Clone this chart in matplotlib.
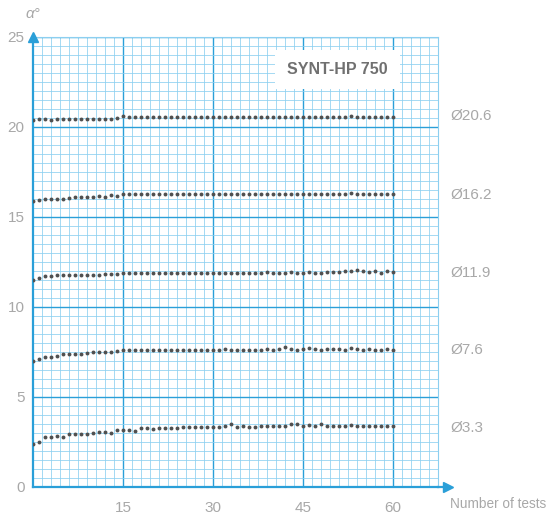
import matplotlib.pyplot as plt
from matplotlib.ticker import MultipleLocator

plt.rcParams['font.family'] = ['Liberation Sans', 'DejaVu Sans']

tests = list(range(0, 61))

d33 = [2.4, 2.5, 2.75, 2.75, 2.85, 2.8, 2.95, 2.95, 2.95, 2.95,
       3.0, 3.05, 3.05, 3.0, 3.15, 3.15, 3.15, 3.1, 3.25, 3.25,
       3.2, 3.3, 3.3, 3.25, 3.25, 3.35, 3.35, 3.35, 3.35, 3.35,
       3.35, 3.35, 3.4, 3.5, 3.35, 3.4, 3.35, 3.35, 3.4, 3.4,
       3.4, 3.4, 3.4, 3.5, 3.5, 3.4, 3.45, 3.4, 3.5, 3.4,
       3.4, 3.4, 3.4, 3.45, 3.4, 3.4, 3.4, 3.4, 3.4, 3.4, 3.4]
d76 = [7.0, 7.1, 7.2, 7.2, 7.3, 7.4, 7.4, 7.4, 7.4, 7.45,
       7.5, 7.5, 7.5, 7.5, 7.55, 7.6, 7.6, 7.6, 7.6, 7.6,
       7.6, 7.6, 7.6, 7.6, 7.6, 7.6, 7.6, 7.6, 7.6, 7.6,
       7.6, 7.6, 7.65, 7.6, 7.6, 7.6, 7.6, 7.6, 7.6, 7.65,
       7.6, 7.65, 7.75, 7.65, 7.6, 7.65, 7.7, 7.65, 7.6, 7.65,
       7.65, 7.65, 7.6, 7.7, 7.65, 7.6, 7.65, 7.6, 7.6, 7.65, 7.6]
d119 = [11.5, 11.6, 11.7, 11.7, 11.75, 11.75, 11.75, 11.8, 11.8, 11.8,
        11.8, 11.8, 11.85, 11.85, 11.85, 11.9, 11.9, 11.9, 11.9, 11.9,
        11.9, 11.9, 11.9, 11.9, 11.9, 11.9, 11.9, 11.9, 11.9, 11.9,
        11.9, 11.9, 11.9, 11.9, 11.9, 11.9, 11.9, 11.9, 11.9, 11.95,
        11.9, 11.9, 11.9, 11.95, 11.9, 11.9, 11.95, 11.9, 11.9, 11.95,
        11.95, 11.95, 12.0, 12.0, 12.05, 12.0, 11.95, 12.0, 11.9, 12.0, 11.95]
d162 = [15.9, 15.95, 16.0, 16.0, 16.0, 16.0, 16.05, 16.1, 16.1, 16.1,
        16.1, 16.15, 16.1, 16.2, 16.15, 16.25, 16.25, 16.25, 16.25, 16.25,
        16.25, 16.25, 16.25, 16.25, 16.25, 16.25, 16.25, 16.25, 16.3, 16.25,
        16.25, 16.25, 16.25, 16.25, 16.25, 16.25, 16.25, 16.25, 16.25, 16.25,
        16.25, 16.25, 16.25, 16.25, 16.25, 16.25, 16.25, 16.25, 16.25, 16.25,
        16.25, 16.25, 16.25, 16.35, 16.3, 16.25, 16.25, 16.25, 16.25, 16.25, 16.25]
d206 = [20.4, 20.45, 20.45, 20.4, 20.45, 20.45, 20.45, 20.45, 20.45, 20.45,
        20.45, 20.45, 20.45, 20.45, 20.5, 20.6, 20.55, 20.55, 20.55, 20.55,
        20.55, 20.55, 20.55, 20.55, 20.55, 20.55, 20.55, 20.55, 20.55, 20.55,
        20.55, 20.55, 20.55, 20.55, 20.55, 20.55, 20.55, 20.55, 20.55, 20.55,
        20.55, 20.55, 20.55, 20.55, 20.55, 20.55, 20.55, 20.55, 20.55, 20.55,
        20.55, 20.55, 20.55, 20.6, 20.55, 20.55, 20.55, 20.55, 20.55, 20.55, 20.55]

series = [d206, d162, d119, d76, d33]
labels = ["Ø20.6", "Ø16.2", "Ø11.9", "Ø7.6", "Ø3.3"]
label_y = [20.6, 16.2, 11.9, 7.6, 3.3]

blue = "#2a9fd8"
light = "#8ccff0"
grey = "#a8a8a8"

fig = plt.figure(figsize=(5.46, 5.15), dpi=100)
ax = fig.add_axes([0.0604, 0.0544, 0.742, 0.874])

ax.set_xlim(0, 67.5)
ax.set_ylim(0, 25)
ax.xaxis.set_major_locator(MultipleLocator(15))
ax.yaxis.set_major_locator(MultipleLocator(5))
ax.xaxis.set_minor_locator(MultipleLocator(1.5))
ax.yaxis.set_minor_locator(MultipleLocator(0.5))
ax.grid(which="minor", color=light, lw=0.55)
ax.grid(which="major", color=blue, lw=1.0)
ax.set_axisbelow(True)

for s in ax.spines.values():
    s.set_color(light)
    s.set_linewidth(0.8)
ax.spines["left"].set_color(blue)
ax.spines["bottom"].set_color(blue)
ax.spines["left"].set_linewidth(1.6)
ax.spines["bottom"].set_linewidth(1.6)

ax.tick_params(which="both", length=0)
ax.tick_params(axis="x", colors=grey, labelsize=11, pad=10)
ax.tick_params(axis="y", colors=grey, labelsize=11, pad=6)
ax.set_xticks([15, 30, 45, 60])
ax.set_yticks([0, 5, 10, 15, 20, 25])

for vals in series:
    ax.plot(tests, vals, ls="none", marker="o", ms=2.8, mew=0,
            color="#505050", zorder=3)

for lab, y in zip(labels, label_y):
    ax.text(1.03, y, lab, transform=ax.get_yaxis_transform(), color=grey,
            fontsize=11, va="center", ha="left")

# arrow heads
ax.plot([0], [1.0], marker="^", ms=7, color=blue, transform=ax.transAxes,
        clip_on=False, zorder=5)
ax.plot([1.025], [0], marker=">", ms=7, color=blue, transform=ax.transAxes,
        clip_on=False, zorder=5)
ax.plot([1.0, 1.025], [0, 0], color=blue, lw=1.6, transform=ax.transAxes,
        clip_on=False)

ax.text(0.0, 1.035, "α°", transform=ax.transAxes, color=grey, fontsize=11,
        ha="center", va="bottom", style="italic")
ax.text(1.03, -0.038, "Number of tests", transform=ax.transAxes, color=grey,
        fontsize=9.8, ha="left", va="center")

ax.text(50.7, 23.2, "SYNT-HP 750", color="#707070", fontsize=11.5,
        fontweight="bold", ha="center", va="center", zorder=4,
        bbox=dict(boxstyle="square,pad=0.75", fc="white", ec="none"))

fig.savefig("out.png", dpi=100)
